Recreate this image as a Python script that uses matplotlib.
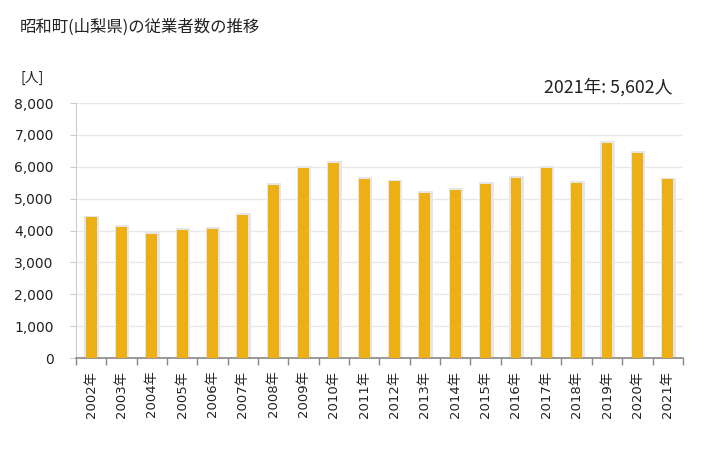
import matplotlib
matplotlib.use("Agg")
import matplotlib.pyplot as plt
import numpy as np
from matplotlib.ticker import FuncFormatter, FixedLocator

plt.rcParams['font.family'] = ['Noto Sans CJK JP', 'DejaVu Sans']

years = ["2002年", "2003年", "2004年", "2005年", "2006年", "2007年", "2008年",
         "2009年", "2010年", "2011年", "2012年", "2013年", "2014年", "2015年",
         "2016年", "2017年", "2018年", "2019年", "2020年", "2021年"]
workers = [4430, 4120, 3900, 4030, 4060, 4500, 5440, 5970, 6130, 5630,
           5560, 5190, 5280, 5470, 5660, 5970, 5500, 6760, 6440, 5602]
yticks = [0, 1000, 2000, 3000, 4000, 5000, 6000, 7000, 8000]

title = "昭和町(山梨県)の従業者数の推移"
unit = "[人]"
note = "2021年: 5,602人"

fig = plt.figure(figsize=(7.28, 4.5), dpi=100)
ax = fig.add_axes([0.1044, 0.2044, 0.8336, 0.5667])

x = np.arange(len(years))
w = 0.36
ax.bar(x + 0.02, [v + 40 for v in workers], width=w + 0.12, color='#e6e6e6', zorder=2)
ax.bar(x, workers, width=w, color='#edb014', zorder=3)

ax.set_xlim(-0.5, len(years) - 0.5)
ax.set_ylim(0, 8000)
ax.set_yticks(yticks)
ax.yaxis.set_major_formatter(FuncFormatter(lambda v, p: f"{int(v):,}"))
ax.grid(axis='y', color='#e8e8e8', linewidth=1, zorder=0)
ax.set_axisbelow(True)

ax.set_xticks(x)
ax.set_xticklabels(years, rotation=90, fontsize=9.5, color='#222222',
                   family=['DejaVu Sans', 'Noto Sans CJK JP'])
ax.xaxis.set_minor_locator(FixedLocator(np.arange(-0.5, len(years), 1.0)))
ax.tick_params(axis='x', which='major', length=0, pad=9)
ax.tick_params(axis='x', which='minor', length=5, color='#888888', width=1)
ax.tick_params(axis='y', length=4, color='#cccccc', labelsize=10, labelcolor='#222222', pad=12)
for lab in ax.get_yticklabels():
    lab.set_family('DejaVu Sans')

for s in ['top', 'right']:
    ax.spines[s].set_visible(False)
ax.spines['left'].set_color('#cccccc')
ax.spines['bottom'].set_color('#888888')
ax.spines['bottom'].set_linewidth(1.2)

fig.text(20 / 728, 1 - 27 / 450, title, fontsize=11.8, ha='left', va='center', color='#222222')
fig.text(20 / 728, 1 - 78 / 450, unit, fontsize=10, ha='left', va='center', color='#222222')
fig.text(672 / 728, 1 - 87 / 450, note, fontsize=12.8, ha='right', va='center', color='#222222')

fig.savefig("out.png", dpi=100)
